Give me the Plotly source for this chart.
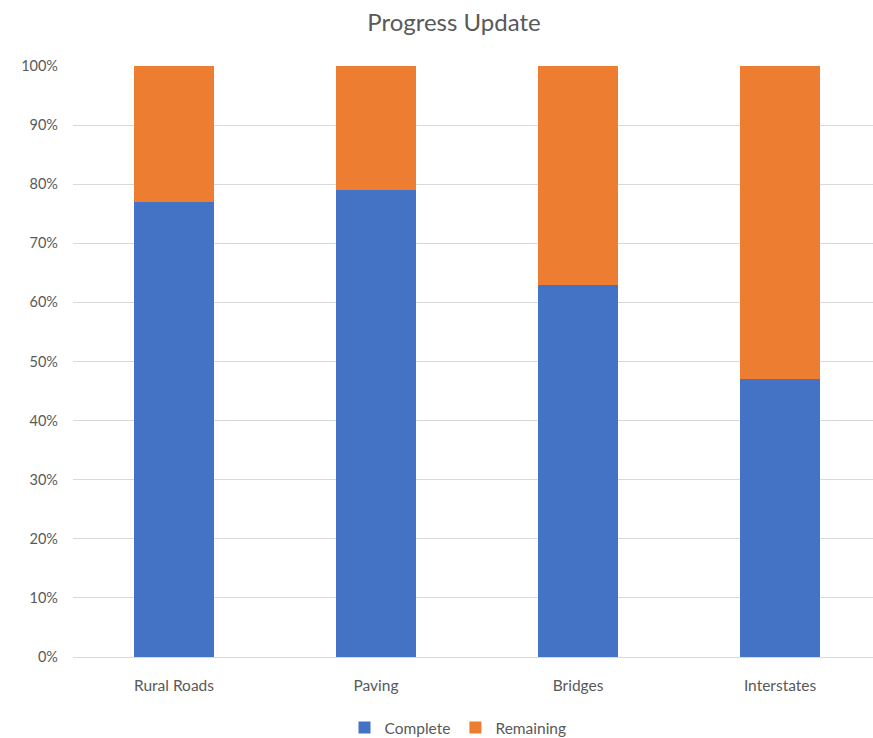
import plotly.graph_objects as go

categories = ["Rural Roads", "Paving", "Bridges", "Interstates"]
complete = [0.77, 0.79, 0.63, 0.47]
remaining = [0.23, 0.21, 0.37, 0.53]
ytick_vals = [0, 0.1, 0.2, 0.3, 0.4, 0.5, 0.6, 0.7, 0.8, 0.9, 1.0]

FONT = "Lato"
GREY = "#595959"

fig = go.Figure()
fig.add_trace(go.Bar(name="Complete", x=categories, y=complete,
                     marker=dict(color="#4472C4", line=dict(width=0))))
fig.add_trace(go.Bar(name="Remaining", x=categories, y=remaining,
                     marker=dict(color="#ED7D31", line=dict(width=0))))

fig.update_layout(
    width=873, height=738,
    barmode="stack", bargap=0.6,
    plot_bgcolor="white", paper_bgcolor="white",
    margin=dict(l=73, r=0, t=66, b=81),
    font=dict(family=FONT, color=GREY, size=15),
    title=dict(text="Progress Update", x=454 / 873, xanchor="center",
               y=1 - 23 / 738, yanchor="middle",
               font=dict(family=FONT, size=24, color=GREY)),
    legend=dict(orientation="h", xref="container", yref="container",
                x=458 / 873, xanchor="center",
                y=1 - 728 / 738, yanchor="middle",
                font=dict(family=FONT, size=15.5, color=GREY),
                itemwidth=30, traceorder="normal"),
    xaxis=dict(range=[-0.5, 3.46], showgrid=False, showline=True,
               linecolor="#d9d9d9", linewidth=1, ticks="",
               ticklabelstandoff=14,
               tickfont=dict(family=FONT, size=15.5, color=GREY)),
    yaxis=dict(range=[0, 1], tickvals=ytick_vals, tickformat=".0%",
               showgrid=True, gridcolor="#d9d9d9", gridwidth=1,
               zeroline=False, showline=False, ticks="",
               ticklabelstandoff=14,
               tickfont=dict(family=FONT, size=14.5, color=GREY)),
)

fig.write_html(
    "out.html",
    config={"displayModeBar": False},
    post_script="document.body.style.margin='0';document.body.style.overflow='hidden';",
)
